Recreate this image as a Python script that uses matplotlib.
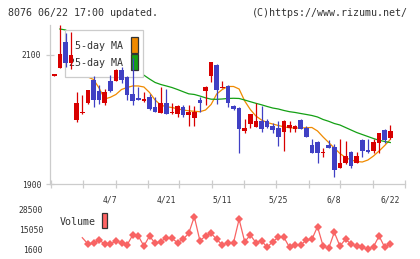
import matplotlib
matplotlib.use("Agg")
import matplotlib.pyplot as plt
from matplotlib.patches import Rectangle
import numpy as np

W, H = 420, 259

# daily candles, 2020-03-24 .. 2020-06-22 (index 0..60)
opens = [2068, 2079.4, 2120.5, 2087, 1999.7, 2010, 2025, 2062, 2044, 2026,
         2059.7, 2059.7, 2076.7, 2065.4, 2039.5, 2032.9, 2029, 2035.3, 2019, 2010.5,
         2026, 2009.6, 2008.5, 2019, 2007, 2001.9, 2030, 2044.6, 2068, 2084.5,
         2049.6, 2052, 2021, 2017.8, 1982, 1993.5, 1988.9, 1997.7, 1997.7, 1990,
         1987.3, 1981, 1986.4, 1985.7, 1999.2, 1986.4, 1960.5, 1965.6, 1947.6, 1960.5,
         1957.8, 1925.3, 1932, 1950, 1933, 1968.2, 1952.7, 1951.6, 1964, 1983.7,
         1970.9]
closes = [2070, 2101.6, 2087.1, 2100, 2025.6, 2012, 2045.7, 2030, 2030, 2043,
          2044, 2076.7, 2061, 2038, 2029, 2030, 2031.8, 2016.3, 2011.6, 2025,
          2008.5, 2011, 2021, 2007, 2012, 2012, 2026, 2051, 2088.7, 2045.7,
          2051, 2026, 2016.3, 1985.3, 1986.8, 2008.5, 1997.7, 1985.3, 1988.9, 1983.7,
          1972.4, 1997.7, 1991.5, 1990, 1985.7, 1973.3, 1948.5, 1947.6, 1950, 1956.3,
          1921.7, 1933, 1943.4, 1928.4, 1943.4, 1951.6, 1950, 1965.6, 1979, 1968.2,
          1982.2]
highs = [2070, 2146, 2134.6, 2136, 2043, 2038, 2046, 2067.4, 2053.5, 2048,
         2069, 2078, 2082, 2068, 2095, 2051, 2043, 2039.5, 2035.3, 2051,
         2046.8, 2025, 2022.5, 2022.5, 2022.5, 2021, 2035.3, 2051.5, 2089.5, 2086,
         2059.7, 2053, 2022, 2019, 2000.8, 2009, 2025, 2021.4, 2000.8, 1995,
         1997.7, 1998.5, 1997.7, 1991, 2000, 1990, 1969.3, 1966.5, 1956.3, 1968.2,
         1961.6, 1969.8, 1967, 1951.6, 1950, 1969.8, 1969.8, 1969.8, 1979.5, 1985,
         1991.5]
lows = [2068, 2079.4, 2081.9, 2079, 1996.6, 2008, 2024, 2019.8, 2023.6, 2022.5,
        2043, 2059, 2056, 2030, 2022.5, 2029.5, 2027.6, 2014.7, 2011, 2010,
        2008, 2009, 2004.3, 2004.3, 1990, 1990, 2012, 2022.5, 2058.6, 2024,
        2049, 2019.8, 2015, 1948.5, 1979.5, 1986.4, 1988, 1981, 1987.5, 1979.5,
        1959.4, 1951.6, 1981, 1980, 1985, 1972.5, 1948, 1932, 1941.4, 1955.5,
        1910.4, 1924.5, 1931, 1925.3, 1932, 1942.6, 1948.5, 1948.5, 1948.5, 1964,
        1970]

# 5-day MA starts at index 6
ma5_start = 6
ma5 = [2065.9, 2062, 2048.8, 2031.8, 2034.4, 2038.8, 2046.5, 2049.6, 2052, 2052,
       2050.4, 2041.9, 2030.2, 2022.5, 2019.7, 2018.6, 2016.6, 2014.7, 2013.5, 2012.7,
       2012.1, 2014.7, 2023.3, 2039.5, 2046.5, 2051.2, 2051.2, 2047.3, 2028.7, 2015.5,
       2005.4, 1999.2, 1995.3, 1993, 1990.7, 1988.7, 1987.1, 1986.8, 1986.8, 1987.3,
       1987.6, 1982.2, 1972.9, 1964.3, 1955.8, 1947.3, 1941.1, 1937.2, 1934.9, 1934.1,
       1937.2, 1943.4, 1951.2, 1959.7, 1969]

# 25-day MA starts at index 1
ma25_start = 1
ma25 = [2140.3, 2138.8, 2134, 2128.7, 2123.3, 2117.8, 2112.4, 2107, 2101.6, 2096.1,
        2090.7, 2085.3, 2079.8, 2075.2, 2071.3, 2068.7, 2062.8, 2057.4, 2054.3, 2052,
        2049.6, 2046.5, 2043.1, 2039.8, 2038.8, 2036.4, 2033.6, 2031.5, 2031.3, 2031.8,
        2032.6, 2032.9, 2032.6, 2030.2, 2027.6, 2025.1, 2022.8, 2020.2, 2017.8, 2016.3,
        2014, 2012.1, 2010.9, 2009.3, 2007.8, 2006.2, 2003.9, 2000, 1997.2, 1993.8,
        1991.5, 1987.6, 1983.7, 1979.8, 1976.7, 1973.6, 1970.5, 1967.8, 1965.9, 1964.3]

# volume starts at index 5
vol_start = 5
volume = [9400, 5160, 5640, 7850, 5160, 5160, 7180, 6040, 4490, 11220,
          10540, 3820, 10540, 5640, 6710, 9400, 9000, 6040, 8330, 12360,
          23520, 7380, 10540, 12360, 8330, 4490, 6040, 6040, 21780, 6710,
          11220, 6040, 7380, 2950, 6710, 9670, 9670, 2950, 4490, 4490,
          7850, 8330, 16800, 3820, 2270, 13030, 3820, 8330, 5160, 3820,
          2950, 1600, 3350, 10540, 2950, 5160]

date_idx = [10, 20, 30, 40, 50, 60]
date_labels = ["4/7", "4/21", "5/11", "5/25", "6/8", "6/22"]

RED, BLUE = "#D80000", "#4040C4"
ORANGE, GREEN = "#F08A00", "#14A014"
AXIS = "#CCCCCC"
TXT = "#333333"
MONO = "DejaVu Sans Mono"


def px_to_idx(px):
    return (px - 54.3) / 5.6


fig = plt.figure(figsize=(W / 100, H / 100), dpi=100)
fig.patch.set_facecolor("white")

# ---- price panel
ax = fig.add_axes([50 / W, 1 - 184 / H, 355 / W, 159 / H])
ax.set_xlim(px_to_idx(50), px_to_idx(405))
ax.set_ylim(1900, 2146.5)
for s in ["top", "right"]:
    ax.spines[s].set_visible(False)
for s in ["left", "bottom"]:
    ax.spines[s].set_color(AXIS)
    ax.spines[s].set_linewidth(0.9)

x = np.arange(len(closes))
for i in x:
    o, c, h, l = opens[i], closes[i], highs[i], lows[i]
    col = RED if c >= o else BLUE
    ax.vlines(i, l, h, color=col, linewidth=0.9, zorder=3)
    ax.bar(i, abs(c - o), bottom=min(o, c), width=0.84, color=col,
           linewidth=0, zorder=4)

ax.plot(np.arange(ma5_start, ma5_start + len(ma5)), ma5, color=ORANGE,
        linewidth=0.9, zorder=1.5)
ax.plot(np.arange(ma25_start, ma25_start + len(ma25)), ma25, color=GREEN,
        linewidth=0.9, zorder=1.5)

ax.set_yticks([1900, 2100])
ax.set_yticklabels(["1900", "2100"], family=MONO)
ax.tick_params(axis="y", direction="inout", length=5.8, width=0.9, color=AXIS,
               labelsize=5.8, labelcolor=TXT, pad=3.5)

tick_px = [51, 82.7, 115.7, 147.7, 179.3, 211.7, 244, 276.3, 308.7, 340.3, 373.3, 405]
ax.set_xticks(date_idx)
ax.set_xticklabels(date_labels, family=MONO)
ax.set_xticks([px_to_idx(p) for p in tick_px], minor=True)
ax.tick_params(axis="x", which="major", length=0, labelsize=5.8,
               labelcolor=TXT, pad=8.5)
ax.tick_params(axis="x", which="minor", direction="inout", length=5.8,
               width=0.9, color=AXIS)

# legend box (above MA lines, below candles)
ax.add_patch(Rectangle((65 / W, 1 - 77.3 / H), 78.3 / W, 47.3 / H,
                       transform=fig.transFigure, facecolor="white",
                       edgecolor=AXIS, linewidth=0.9, zorder=2.5, clip_on=False))
ax.text(123.3 / W, 1 - 46 / H, "5-day MA", transform=fig.transFigure,
        ha="right", va="center", family=MONO, fontsize=7.2, color=TXT, zorder=2.6)
ax.text(123.3 / W, 1 - 62.7 / H, "25-day MA", transform=fig.transFigure,
        ha="right", va="center", family=MONO, fontsize=7.2, color=TXT, zorder=2.6)
for y0, col in [(36.7, ORANGE), (54.3, GREEN)]:
    ax.add_patch(Rectangle((131 / W, 1 - (y0 + 16) / H), 6.7 / W, 16 / H,
                           transform=fig.transFigure, facecolor=col,
                           edgecolor=TXT, linewidth=0.9, zorder=2.6, clip_on=False))

# ---- volume panel
vax = fig.add_axes([50 / W, 1 - 255 / H, 355 / W, 50 / H])
vax.set_xlim(px_to_idx(50), px_to_idx(405))
vax.set_ylim(-2233, 31392)
for s in vax.spines.values():
    s.set_visible(False)
vax.set_xticks([])
vax.set_yticks([1600, 15050, 28500])
vax.set_yticklabels(["1600", "15050", "28500"], family=MONO)
vax.tick_params(axis="y", length=0, labelsize=5.8, labelcolor=TXT, pad=5)
vx = np.arange(vol_start, vol_start + len(volume))
vax.plot(vx, volume, color="#F86464", linewidth=0.9, marker="D",
         markersize=3.6, markevery=slice(1, None), markeredgewidth=0)

fig.text(59.3 / W, 1 - 222.3 / H, "Volume", ha="left", va="center",
         family=MONO, fontsize=7.2, color=TXT)
fig.patches.append(Rectangle((101.7 / W, 1 - 228.3 / H), 5.6 / W, 15 / H,
                             transform=fig.transFigure, figure=fig,
                             facecolor="#FF6464", edgecolor=TXT, linewidth=0.9))

# ---- header
fig.text(8 / W, 1 - 13 / H, "8076 06/22 17:00 updated.", ha="left", va="center",
         family=MONO, fontsize=7.2, color=TXT)
fig.text(408 / W, 1 - 13 / H, "(C)https://www.rizumu.net/", ha="right",
         va="center", family=MONO, fontsize=7.2, color=TXT)

fig.savefig("out.png", dpi=100)
